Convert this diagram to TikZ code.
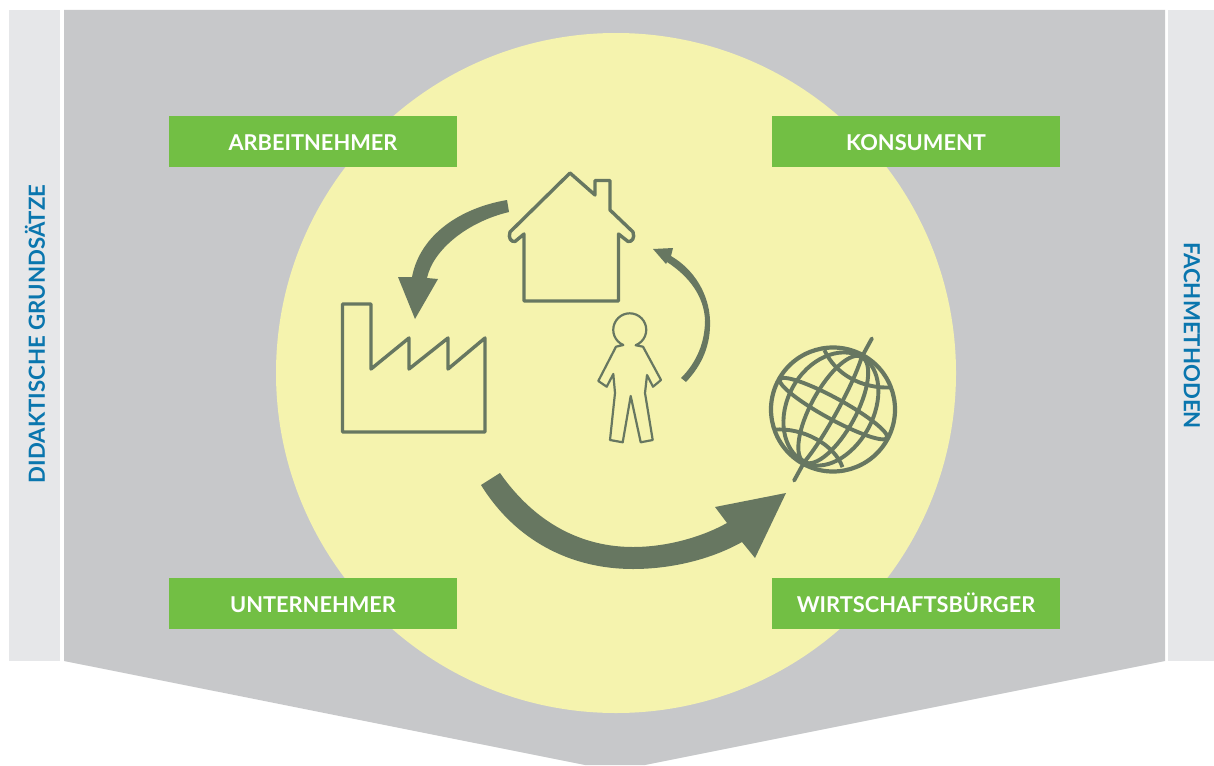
\documentclass[tikz,border=0pt]{standalone}
\usepackage{fontspec}
\setmainfont{Lato}
\definecolor{panelgray}{HTML}{C7C8CA}
\definecolor{barlight}{HTML}{E6E7E9}
\definecolor{sunyellow}{HTML}{F5F3AE}
\definecolor{rolegreen}{HTML}{72BF44}
\definecolor{icongreen}{HTML}{677761}
\definecolor{barblue}{HTML}{0A76AE}
\tikzset{
    rolebox/.style={fill=rolegreen, text=white, minimum width=288pt, minimum height=51pt, inner sep=0pt, text height=18pt, text depth=0.5pt, font=\fontsize{21.8}{24}\selectfont\bfseries},
    barlabel/.style={text=barblue, inner sep=0pt, font=\fontsize{22.2}{24}\selectfont\bfseries},
    iconline/.style={draw=icongreen, line width=3.4pt, line join=round},
    fatarrow/.style={fill=icongreen}
}

\begin{document}
\begin{tikzpicture}[x=1pt, y=-1pt]
        \useasboundingbox (0, 0) rectangle (1214, 765);

        \fill[barlight] (9, 10) rectangle (60, 661);
        \fill[barlight] (1168, 10) rectangle (1214, 661);
        \fill[panelgray] (64, 10) -- (1165, 10) -- (1165, 661) -- (645, 765) -- (585, 765) -- (64, 661) -- cycle;
        \fill[sunyellow] (616, 373) circle (340);

        \node[rolebox] (arbeitnehmer) at (313, 141.5) {ARBEITNEHMER};
        \node[rolebox] (konsument) at (916, 141.5) {KONSUMENT};
        \node[rolebox] (unternehmer) at (313, 603.5) {UNTERNEHMER};
        \node[rolebox] (buerger) at (916, 603.5) {WIRTSCHAFTSBÜRGER};
        \node[barlabel, rotate=90] (grundsaetze) at (35, 334) {DIDAKTISCHE GRUNDSÄTZE};
        \node[barlabel, rotate=-90] (fachmethoden) at (1192, 335.5) {FACHMETHODEN};

        % house
        \draw[iconline] (570, 173) -- (595, 195) -- (595, 180.5) -- (610, 180.5) -- (610, 210) -- (633, 232)
            .. controls (635, 238) and (632, 242) .. (628, 241.5) -- (618.5, 234) -- (618.5, 301) -- (524, 301) -- (524, 234)
            -- (515, 241.5) .. controls (511, 242) and (508, 238) .. (510, 232) -- cycle;

        % factory
        \draw[iconline] (342.5, 304) -- (371, 304) -- (371, 369) -- (409, 338) -- (409, 369) -- (448, 338) -- (448, 369)
            -- (485, 338) -- (485, 432) -- (342.5, 432) -- cycle;

        % person
        \draw[draw=icongreen, line width=2.2pt, line join=round] (623.3, 345) arc[start angle=113, end angle=429, radius=16.5]
            -- (643, 346.7) -- (661, 380) -- (653, 386.7) -- (647, 375) -- (645, 393) -- (652.7, 440) -- (640.7, 442.3)
            -- (630.7, 396) -- (622.7, 442.3) -- (610, 440) -- (615, 393) -- (613.3, 374) -- (606.7, 386.7) -- (598.3, 381)
            -- (616, 346.7) -- cycle;

        % globe
        \begin{scope}[shift={(833, 409.5)}, rotate=-28.7, x=1pt, y=1pt, draw=icongreen, line width=3.9pt]
            \draw[line width=4.2pt] (0, 0) circle (62);
            \foreach \rx in {46, 22} {
                \draw (0, 60) arc [start angle=90, end angle=270, x radius=\rx, y radius=60];
            }
            \foreach \rx in {23, 40} {
                \draw (0, 60) arc [start angle=90, end angle=-90, x radius=\rx, y radius=60];
            }
            \draw (0, 60) .. controls (6, 30) and (6, -30) .. (0, -60);
            \draw (0, 1) ellipse [x radius=61, y radius=10.5];
            \draw (-36, 48) .. controls (-15, 32) and (15, 32) .. (40, 47);
            \draw (-42, -46) .. controls (-18, -30) and (18, -30) .. (36, -46);
            \draw[line cap=round] (0, 60) -- (0, 81);
            \draw[line cap=round] (0, -60) -- (0, -81);
        \end{scope}

        % arrows
        \fill[fatarrow] (507, 200) .. controls (460, 208) and (420, 235) .. (412, 277) -- (398, 277) -- (415, 319) -- (438, 279)
            -- (427, 278) .. controls (433, 250) and (467, 222) .. (509, 212) -- cycle;
        \fill[fatarrow] (686, 382) .. controls (702, 365) and (711, 345) .. (710, 320) .. controls (709, 295) and (695, 270) .. (671, 256)
            -- (673, 248) -- (653, 249) -- (666, 264) -- (667, 262) .. controls (690, 277) and (704, 297) .. (705, 320)
            .. controls (705, 342) and (697, 362) .. (681, 378) -- cycle;
        \fill[fatarrow] (500, 473) .. controls (540, 530) and (590, 547) .. (633, 547) .. controls (665, 547) and (700, 538) .. (727, 523)
            -- (715, 507) -- (786, 493) -- (755, 558) -- (742, 542) .. controls (710, 560) and (670, 569) .. (633, 569)
            .. controls (570, 569) and (515, 540) .. (481, 485) -- cycle;
\end{tikzpicture}
\end{document}
